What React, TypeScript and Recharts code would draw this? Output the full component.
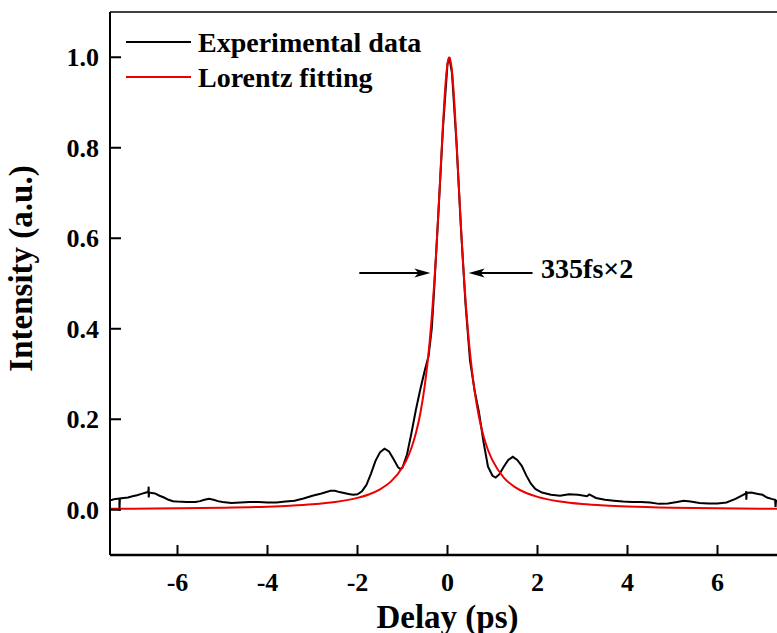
import {
  LineChart,
  Line,
  XAxis,
  YAxis,
  Legend,
  ReferenceLine,
  ReferenceDot,
} from "recharts";

// measured trace (ps, a.u.)
const delayExp = [
  -7.5, -7.45, -7.38, -7.3, -7.29, -7.29, -7.28, -7.2, -7.1, -7.0, -6.9, -6.8, -6.7,
  -6.65, -6.64, -6.64, -6.63, -6.5, -6.4, -6.3, -6.2, -6.1, -6.0, -5.8, -5.6, -5.5,
  -5.4, -5.3, -5.2, -5.1, -5.0, -4.8, -4.6, -4.4, -4.2, -4.0, -3.8, -3.6, -3.4, -3.2,
  -3.0, -2.8, -2.6, -2.5, -2.4, -2.2, -2.1, -2.0, -1.9, -1.8, -1.7, -1.6, -1.5, -1.4,
  -1.3, -1.2, -1.1, -1.05, -1.0, -0.9, -0.8, -0.7, -0.6, -0.5, -0.42, -0.35, -0.3,
  -0.2, -0.1, 0.0, 0.04, 0.1, 0.2, 0.3, 0.4, 0.5, 0.6, 0.7, 0.8, 0.9, 1.0, 1.07, 1.15,
  1.25, 1.35, 1.45, 1.55, 1.65, 1.75, 1.85, 1.95, 2.1, 2.3, 2.5, 2.7, 2.9, 3.1, 3.15,
  3.3, 3.5, 3.7, 3.9, 4.1, 4.3, 4.5, 4.7, 4.9, 5.1, 5.25, 5.4, 5.6, 5.8, 6.0, 6.2,
  6.4, 6.55, 6.63, 6.64, 6.64, 6.65, 6.75, 6.9, 7.0, 7.1, 7.2, 7.28, 7.29, 7.3, 7.5,
];
const intensityExp = [
  0.021, 0.022, 0.024, 0.025, 0.024, -0.002, 0.025, 0.026, 0.027, 0.03, 0.032, 0.035, 0.038,
  0.039, 0.051, 0.027, 0.038, 0.036, 0.031, 0.027, 0.022, 0.019, 0.018, 0.017, 0.017, 0.019,
  0.022, 0.024, 0.022, 0.019, 0.017, 0.015, 0.016, 0.017, 0.017, 0.016, 0.016, 0.018, 0.02, 0.025,
  0.031, 0.036, 0.042, 0.042, 0.039, 0.035, 0.033, 0.034, 0.041, 0.055, 0.08, 0.108, 0.127, 0.135,
  0.129, 0.112, 0.094, 0.09, 0.093, 0.122, 0.17, 0.222, 0.268, 0.31, 0.34, 0.4, 0.48,
  0.66, 0.845, 0.985, 1.0, 0.965, 0.81, 0.62, 0.455, 0.33, 0.265, 0.215, 0.15, 0.095, 0.075, 0.071, 0.078,
  0.095, 0.11, 0.117, 0.11, 0.097, 0.076, 0.058, 0.046, 0.038, 0.033, 0.031, 0.034, 0.033, 0.03, 0.034,
  0.026, 0.022, 0.02, 0.018, 0.017, 0.017, 0.016, 0.013, 0.014, 0.017, 0.02, 0.018, 0.015, 0.014, 0.014, 0.016,
  0.024, 0.032, 0.036, 0.041, 0.022, 0.037, 0.038, 0.035, 0.033, 0.027, 0.024, 0.022, 0.006, 0.02, 0.02,
];

// fitted curve
const delayFit = [
  -7.5, -7, -6, -5, -4, -3.5, -3, -2.5, -2, -1.75, -1.5, -1.25, -1, -0.9, -0.8, -0.7,
  -0.6, -0.5, -0.4, -0.35, -0.3, -0.25, -0.2, -0.15, -0.1, -0.05, 0, 0.04, 0.1, 0.15,
  0.2, 0.25, 0.3, 0.35, 0.4, 0.45, 0.5, 0.6, 0.7, 0.8, 0.9, 1, 1.25, 1.5, 1.75, 2, 2.5,
  3, 3.5, 4, 5, 6, 7, 7.5,
];
const intensityFit = [
  0.002, 0.0023, 0.0031, 0.0044, 0.0068, 0.0089, 0.012, 0.0171, 0.0262, 0.0338, 0.0452, 0.0632, 0.094, 0.1127, 0.137, 0.17,
  0.215, 0.278, 0.367, 0.425, 0.493, 0.572, 0.661, 0.757, 0.851, 0.933, 0.986, 1.0, 0.969, 0.903,
  0.814, 0.718, 0.624, 0.539, 0.464, 0.4, 0.347, 0.264, 0.205, 0.163, 0.132, 0.109, 0.0712, 0.05, 0.037, 0.0284, 0.0182,
  0.0126, 0.0093, 0.0071, 0.0045, 0.0031, 0.0023, 0.002,
];

const xTicks = [-6, -4, -2, 0, 2, 4, 6];
const yTicks = [0, 0.2, 0.4, 0.6, 0.8, 1.0];

const FONT = '"Liberation Serif", "Times New Roman", serif';

const expPoints = delayExp.map((x, i) => ({ x, y: intensityExp[i] }));
const fitPoints = delayFit.map((x, i) => ({ x, y: intensityFit[i] }));

function XTick({ x, y, payload }: any) {
  return (
    <g>
      <line x1={x} y1={y} x2={x} y2={y - 10} stroke="#000" strokeWidth={2} />
      <text x={x} y={y + 36} textAnchor="middle" fontSize={26} fontWeight="bold" fontFamily={FONT} fill="#000">
        {payload.value}
      </text>
    </g>
  );
}

function YTick({ x, y, payload }: any) {
  return (
    <g>
      <line x1={x} y1={y} x2={x + 11} y2={y} stroke="#000" strokeWidth={2} />
      <text x={x - 11} y={y + 9} textAnchor="end" fontSize={26} fontWeight="bold" fontFamily={FONT} fill="#000">
        {Number(payload.value).toFixed(1)}
      </text>
    </g>
  );
}

function YTitle({ viewBox }: any) {
  const { x, y, width, height } = viewBox;
  return (
    <text
      transform={`translate(${x + width - 78}, ${y + height / 2 - 15}) rotate(-90)`}
      textAnchor="middle"
      fontSize={33}
      fontWeight="bold"
      fontFamily={FONT}
      fill="#000"
    >
      Intensity (a.u.)
    </text>
  );
}

function Arrow({ x1, y1, x2, y2 }: any) {
  const dir = Math.sign(x2 - x1);
  return (
    <g>
      <line x1={x1} y1={y1} x2={x2 - dir * 10} y2={y2} stroke="#000" strokeWidth={2} />
      <polygon
        points={`${x2},${y2} ${x2 - dir * 16},${y2 - 4.5} ${x2 - dir * 12},${y2} ${x2 - dir * 16},${y2 + 4.5}`}
        fill="#000"
      />
    </g>
  );
}

function LegendBox({ payload }: any) {
  return (
    <svg width={320} height={75} style={{ display: "block" }}>
      {(payload || []).map((p: any, i: number) => (
        <g key={p.value}>
          <line x1={0} y1={18 + i * 35} x2={65} y2={18 + i * 35} stroke={p.color} strokeWidth={2} />
          <text x={72} y={28 + i * 35} fontSize={28} fontWeight="bold" fontFamily={FONT} fill="#000">
            {p.value}
          </text>
        </g>
      ))}
    </svg>
  );
}

export default function App() {
  // the original figure is cropped at the right and bottom edges of the window
  return (
    <div style={{ width: 777, height: 633, overflow: "hidden", background: "#fff" }}>
      <style>{"body{margin:0}"}</style>
      <LineChart width={790} height={633} margin={{ top: 12, right: 5, bottom: 77, left: 109 }}>
        <XAxis
          dataKey="x"
          type="number"
          domain={[-7.5, 7.5]}
          ticks={xTicks}
          allowDataOverflow
          height={1}
          tickSize={0}
          tickMargin={0}
          tickLine={false}
          tick={(p: any) => <XTick {...p} />}
          axisLine={{ stroke: "#000", strokeWidth: 2.5 }}
          label={{
            value: "Delay (ps)",
            position: "bottom",
            offset: 49,
            fontSize: 33,
            fontWeight: "bold",
            fontFamily: FONT,
            fill: "#000",
          }}
        />
        <YAxis
          type="number"
          domain={[-0.1, 1.1]}
          ticks={yTicks}
          allowDataOverflow
          width={1}
          tickSize={0}
          tickMargin={0}
          tickLine={false}
          tick={(p: any) => <YTick {...p} />}
          axisLine={{ stroke: "#000", strokeWidth: 2 }}
          label={{ content: (p: any) => <YTitle {...p} /> }}
        />
        <ReferenceLine y={1.1} stroke="#000" strokeWidth={1.5} />
        <Legend
          layout="vertical"
          align="center"
          verticalAlign="middle"
          content={(p: any) => <LegendBox {...p} />}
          wrapperStyle={{ left: 126, top: 24, width: 320, height: 75 }}
        />
        <Line
          data={expPoints}
          dataKey="y"
          name="Experimental data"
          type="linear"
          stroke="#000"
          strokeWidth={2}
          dot={false}
          activeDot={false}
          isAnimationActive={false}
        />
        <Line
          data={fitPoints}
          dataKey="y"
          name="Lorentz fitting"
          type="monotone"
          stroke="#ee0000"
          strokeWidth={2}
          dot={false}
          activeDot={false}
          isAnimationActive={false}
        />
        <ReferenceLine
          segment={[
            { x: -1.96, y: 0.523 },
            { x: -0.38, y: 0.523 },
          ]}
          shape={(p: any) => <Arrow {...p} />}
        />
        <ReferenceLine
          segment={[
            { x: 1.89, y: 0.523 },
            { x: 0.47, y: 0.523 },
          ]}
          shape={(p: any) => <Arrow {...p} />}
        />
        <ReferenceDot
          x={2.08}
          y={0.534}
          r={0}
          fill="none"
          stroke="none"
          label={{
            value: "335fs×2",
            position: "right",
            offset: 0,
            fontSize: 28,
            fontWeight: "bold",
            fontFamily: FONT,
            fill: "#000",
          }}
        />
      </LineChart>
    </div>
  );
}
